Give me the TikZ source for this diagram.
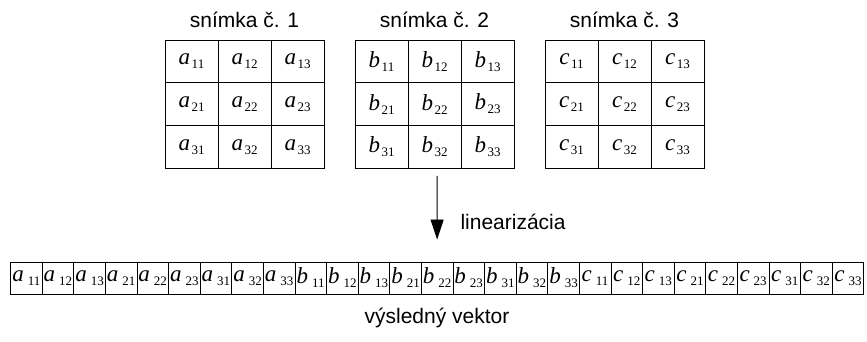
\documentclass[tikz,border=0pt]{standalone}
\usepackage{fontspec}
\setmainfont{Liberation Sans}
\newfontfamily\serif{Liberation Serif}
\usetikzlibrary{arrows.meta}

% prvok matice: pismeno + index
\newcommand{\prvok}[3][1.5pt]{{\serif\fontsize{23}{23}\selectfont\itshape #2}\kern#1\raisebox{-4pt}{\serif\fontsize{13}{13}\selectfont #3}}

\tikzset{
  bunka/.style={draw, line width=0.8pt, minimum width=53pt, minimum height=42.7pt, inner sep=0pt},
  vbunka/.style={draw, line width=0.8pt, minimum width=31.6pt, minimum height=32pt, inner sep=0pt},
  popis/.style={font=\fontsize{21}{21}\selectfont}
}

\begin{document}
\begin{tikzpicture}[x=1pt,y=1pt]
  \useasboundingbox (0,0) rectangle (867,342);
  % tri snimky 3x3
  \foreach \m/\x [count=\k] in {a/165,b/355,c/545} {
    \node[popis] (titul-\m) at (\x+79.5,322) {snímka č. \k};
    \foreach \r in {1,2,3}
      \foreach \s in {1,2,3}
        \node[bunka] (\m-\r-\s) at (\x+53*\s-26.5, 323.35-42.7*\r) {\prvok{\m}{\r\s}};
  }
  % vysledny vektor
  \foreach \m [count=\k] in {a,b,c}
    \foreach \r in {1,2,3}
      \foreach \s in {1,2,3} {
        \pgfmathtruncatemacro\n{(\k-1)*9+(\r-1)*3+\s}
        \node[vbunka] (v-\n) at (26.3+31.6*\n-31.6, 64) {\prvok[4pt]{\m}{\r\s}};
      }
  \coordinate (zac) at (437.1,166);
  \draw[line width=0.8pt, -{Triangle[length=20pt,width=13pt]}] (zac) -- ([yshift=22pt]v-14.north);
  \node[popis, anchor=west] (lin) at (457,120) {linearizácia};
  \node[popis] (vysl) at (437,24) {výsledný vektor};
\end{tikzpicture}
\end{document}
